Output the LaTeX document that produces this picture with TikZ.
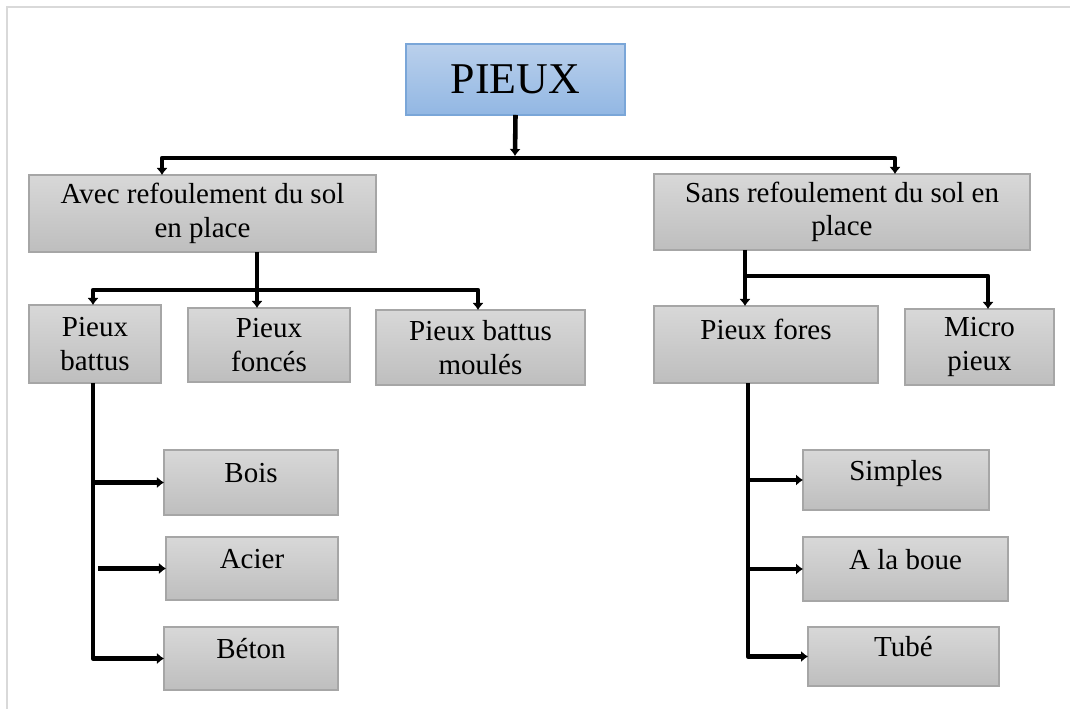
\documentclass[tikz,border=0pt]{standalone}
\usepackage{fontspec}
\setmainfont{Liberation Serif}
\usetikzlibrary{arrows.meta}
\definecolor{boxtop}{RGB}{216,216,216}
\definecolor{boxbot}{RGB}{190,190,190}
\definecolor{boxline}{RGB}{166,166,166}
\definecolor{bluetop}{RGB}{186,208,236}
\definecolor{bluebot}{RGB}{146,183,227}
\definecolor{blueline}{RGB}{122,166,216}
\definecolor{framegray}{RGB}{217,217,217}
\tikzset{
  box/.style={draw=boxline, line width=0.8pt, top color=boxtop, bottom color=boxbot,
    inner sep=0pt, outer sep=0pt, align=center, font=\fontsize{16.5}{19}\selectfont},
  pieuxbox/.style={box, draw=blueline, top color=bluetop, bottom color=bluebot,
    font=\fontsize{25}{30}\selectfont},
  toptext/.style={text height=11pt, text depth=11pt},
  link/.style={line width=2.6pt, line join=round, -{Latex[length=4pt,width=6.5pt]}},
  twolink/.style={line width=2.6pt, line join=round,
    {Latex[length=4pt,width=6.5pt]}-{Latex[length=4pt,width=6.5pt]}}
}
\begin{document}
\begin{tikzpicture}[x=0.02cm,y=-0.02cm]
\useasboundingbox (0,0) rectangle (1070,709);
\draw[framegray, line width=1.2pt] (1070,7) -- (7,7) -- (7,709);

\node[pieuxbox, minimum width=4.38cm, minimum height=1.42cm] (pieux) at (515.5,79.5) {PIEUX};

\node[box, minimum width=6.94cm, minimum height=1.54cm] (avec) at (202.5,213.5) {Avec refoulement du sol\\en place};
\node[box, minimum width=7.52cm, minimum height=1.52cm] (sans) at (842,212) {Sans refoulement du sol en\\place};

\node[box, minimum width=2.64cm, minimum height=1.56cm] (battus) at (95,344) {Pieux\\battus};
\node[box, minimum width=3.24cm, minimum height=1.48cm] (fonces) at (269,345) {Pieux\\foncés};
\node[box, minimum width=4.18cm, minimum height=1.5cm] (moules) at (480.5,347.5) {Pieux battus\\moulés};
\node[box, text height=10pt, text depth=16pt, minimum width=4.48cm, minimum height=1.54cm] (fores) at (766,344.5) {Pieux fores};
\node[box, minimum width=2.98cm, minimum height=1.52cm] (micro) at (979.5,347) {Micro\\pieux};

\node[box, toptext, minimum width=3.48cm, minimum height=1.3cm] (bois) at (251,482.5) {Bois};
\node[box, toptext, minimum width=3.44cm, minimum height=1.26cm] (acier) at (252,568.5) {Acier};
\node[box, toptext, minimum width=3.48cm, minimum height=1.26cm] (beton) at (251,658.5) {Béton};

\node[box, toptext, minimum width=3.72cm, minimum height=1.2cm] (simples) at (896,480) {Simples};
\node[box, toptext, minimum width=4.1cm, minimum height=1.28cm] (boue) at (905.5,569) {A la boue};
\node[box, toptext, minimum width=3.82cm, minimum height=1.18cm] (tube) at (903.5,656.5) {Tubé};

\coordinate (pbus) at (515,156);
\coordinate (pbusL) at (162,158);
\coordinate (pbusR) at (895,158);
\draw[link] (pieux.south) -- (pbus);
\draw[twolink] (pbusL |- avec.north) -- (pbusL) -- (pbusR) -- (pbusR |- sans.north);

\coordinate (abus) at (257,290);
\coordinate (abusL) at (93,290);
\coordinate (abusR) at (478,290);
\draw[link] (abus |- avec.south) -- (abus |- fonces.north);
\draw[twolink] (abusL |- battus.north) -- (abusL) -- (abusR) -- (abusR |- moules.north);

\coordinate (sbus) at (745,276);
\coordinate (sbusR) at (988,276);
\draw[link] (sbus |- sans.south) -- (sbus |- fores.north);
\draw[link] (sbus) -- (sbusR) -- (sbusR |- micro.north);

\coordinate (btrunk) at (93,660);
\draw[link] (btrunk |- battus.south) |- (beton.west);
\draw[link] (btrunk |- bois.west) -- (bois.west);
\draw[link] ([xshift=0.1cm]btrunk |- acier.west) -- (acier.west);

\coordinate (ftrunk) at (748,660);
\draw[link] (ftrunk |- fores.south) |- (tube.west);
\draw[link] (ftrunk |- simples.west) -- (simples.west);
\draw[link] (ftrunk |- boue.west) -- (boue.west);
\end{tikzpicture}
\end{document}
